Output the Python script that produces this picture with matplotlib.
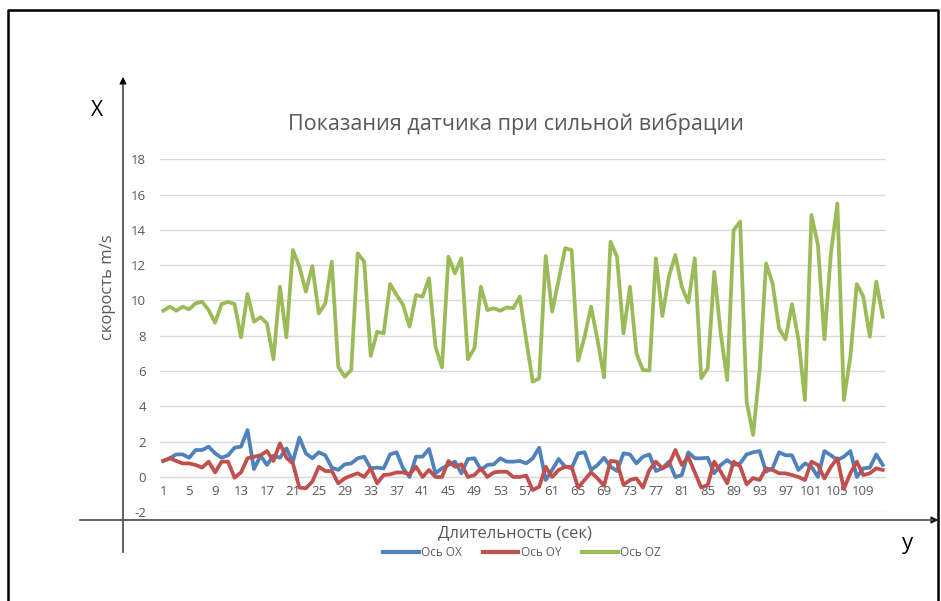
import matplotlib
matplotlib.use("Agg")
import matplotlib.pyplot as plt
from matplotlib.lines import Line2D
import numpy as np

plt.rcParams['font.family'] = ['Open Sans', 'DejaVu Sans']

title = "Показания датчика при сильной вибрации"
xlabel = "Длительность (сек)"
ylabel = "скорость m/s"
series_names = ["Ось OX", "Ось OY", "Ось OZ"]
yticks = [-2, 0, 2, 4, 6, 8, 10, 12, 14, 16, 18]

ox = [0.91, 1.06, 1.28, 1.28, 1.09, 1.53, 1.53, 1.72, 1.34, 1.09,
      1.23, 1.66, 1.72, 2.66, 0.45, 1.21, 0.68, 1.21, 1.09, 1.62,
      0.87, 2.23, 1.34, 1.06, 1.40, 1.23, 0.53, 0.40, 0.72, 0.77,
      1.06, 1.15, 0.49, 0.53, 0.49, 1.28, 1.40, 0.49, 0.00, 1.15,
      1.15, 1.59, 0.21, 0.49, 0.68, 0.87, 0.21, 1.02, 1.06, 0.40,
      0.68, 0.72, 1.06, 0.87, 0.87, 0.91, 0.77, 1.06, 1.66, -0.17,
      0.40, 1.02, 0.58, 0.49, 1.34, 1.40, 0.40, 0.68, 1.09, 0.58,
      0.34, 1.34, 1.28, 0.77, 1.15, 1.28, 0.34, 0.49, 0.87, 0.00,
      0.11, 1.40, 1.06, 1.06, 1.09, 0.21, 0.68, 0.96, 0.68, 0.77,
      1.28, 1.40, 1.47, 0.30, 0.49, 1.40, 1.23, 1.23, 0.40, 0.77,
      0.58, 0.00, 1.47, 1.23, 0.96, 1.15, 1.47, 0.00, 0.49, 0.53,
      1.28, 0.68]

oy = [0.91, 1.06, 0.91, 0.77, 0.77, 0.68, 0.53, 0.87, 0.26, 0.87,
      0.87, -0.04, 0.26, 1.06, 1.15, 1.23, 1.47, 0.91, 1.91, 1.09,
      0.77, -0.60, -0.64, -0.26, 0.58, 0.34, 0.34, -0.36, -0.08, 0.08,
      0.21, 0.00, 0.49, -0.36, 0.11, 0.15, 0.26, 0.26, 0.15, 0.58,
      0.00, 0.40, 0.00, 0.00, 0.91, 0.58, 0.72, 0.00, 0.11, 0.49,
      0.00, 0.26, 0.30, 0.30, 0.00, 0.00, 0.08, -0.74, -0.55, 0.58,
      0.00, 0.40, 0.58, 0.58, -0.60, -0.17, 0.26, -0.08, -0.49, 0.91,
      0.87, -0.45, -0.17, -0.08, -0.60, 0.40, 0.87, 0.49, 0.68, 1.53,
      0.68, 1.15, 0.26, -0.60, -0.45, 0.87, 0.30, -0.36, 0.87, 0.60,
      -0.42, -0.06, -0.17, 0.49, 0.40, 0.21, 0.21, 0.11, 0.00, -0.17,
      0.87, 0.68, -0.08, 0.58, 1.06, -0.68, 0.21, 0.87, 0.11, 0.21,
      0.49, 0.40]

oz = [9.42, 9.65, 9.42, 9.65, 9.50, 9.84, 9.93, 9.46, 8.74, 9.80,
      9.92, 9.80, 7.91, 10.37, 8.80, 9.05, 8.71, 6.67, 10.78, 7.91,
      12.86, 11.92, 10.50, 11.95, 9.27, 9.84, 12.20, 6.25, 5.68, 6.06,
      12.67, 12.20, 6.86, 8.23, 8.14, 10.93, 10.31, 9.75, 8.52, 10.31,
      10.22, 11.26, 7.38, 6.21, 12.48, 11.54, 12.39, 6.67, 7.29, 10.78,
      9.46, 9.56, 9.42, 9.61, 9.56, 10.22, 7.76, 5.40, 5.59, 12.52,
      9.37, 11.16, 12.96, 12.86, 6.59, 7.95, 9.65, 7.76, 5.65, 13.33,
      12.48, 8.14, 10.78, 7.01, 6.06, 6.03, 12.39, 9.12, 11.35, 12.58,
      10.78, 9.88, 12.39, 5.59, 6.16, 11.63, 8.14, 5.50, 13.99, 14.47,
      4.27, 2.38, 6.06, 12.10, 10.97, 8.42, 7.80, 9.80, 7.76, 4.36,
      14.84, 13.14, 7.80, 12.67, 15.50, 4.36, 6.82, 10.93, 10.22, 7.95,
      11.07, 9.08]

x = np.arange(1, len(oz) + 1)
xtick_pos = x[::4]
xtick_labels = [str(v) for v in xtick_pos]

colors = ["#4F81BD", "#C0504D", "#9BBB59"]
text_gray = "#595959"

W, H = 941, 601
fig = plt.figure(figsize=(W / 100, H / 100), dpi=100)

def fx(px):
    return px / W

def fy(py):
    return 1 - py / H

# axes placement (pixels)
left, right, top, bottom = 160, 886, 159.3, 512.3
ax = fig.add_axes([fx(left), fy(bottom), fx(right - left), (bottom - top) / H])

for vals, c, name in zip([ox, oy, oz], colors, series_names):
    ax.plot(x, vals, color=c, lw=2.7, label=name, solid_joinstyle='round')

ax.set_xlim(0.5, len(oz) + 0.5)
ax.set_ylim(-2, 18)
ax.set_yticks(yticks)
ax.set_yticklabels([str(v) for v in yticks])
ax.set_xticks(xtick_pos)
ax.set_xticklabels(xtick_labels)
ax.grid(axis='y', color='#D9D9D9', lw=1)
ax.set_axisbelow(True)
for s in ['left', 'right', 'top']:
    ax.spines[s].set_visible(False)
ax.spines['bottom'].set_position(('data', 0))
ax.spines['bottom'].set_visible(False)
ax.tick_params(axis='y', length=0, pad=10, labelsize=9.5, labelcolor=text_gray)
ax.tick_params(axis='x', length=0, pad=6, labelsize=9.5, labelcolor=text_gray)

# texts
fig.text(fx(516), fy(124), title, ha='center', va='center', fontsize=15.5, color=text_gray)
fig.text(fx(108), fy(287), ylabel, ha='center', va='center', rotation=90,
         fontsize=12, color=text_gray)
fig.text(fx(515), fy(533), xlabel, ha='center', va='center', fontsize=12, color=text_gray)
fig.text(fx(97), fy(110), "X", ha='center', va='center', fontsize=15, color='black')
fig.text(fx(908), fy(543), "y", ha='center', va='center', fontsize=16, color='black')

# legend
leg = ax.legend(loc='center', bbox_to_anchor=(fx(522), fy(553)), bbox_transform=fig.transFigure,
                ncol=3, frameon=False, fontsize=8.5, handlelength=3.0, handletextpad=0.2,
                columnspacing=1.8, labelcolor=text_gray)
for h in leg.get_lines():
    h.set_linewidth(3.0)

# drawn axis arrows
fig.add_artist(Line2D([fx(123), fx(123)], [fy(552), fy(85)], color='#555555', lw=1.3,
                      transform=fig.transFigure))
fig.add_artist(Line2D([fx(80), fx(932)], [fy(520), fy(520)], color='#555555', lw=1.3,
                      transform=fig.transFigure))
ax.annotate('', xy=(fx(123), fy(74)), xytext=(fx(123), fy(88)), xycoords='figure fraction',
            arrowprops=dict(arrowstyle='-|>', color='black', lw=1.0, mutation_scale=10))
ax.annotate('', xy=(fx(941), fy(520)), xytext=(fx(928), fy(520)), xycoords='figure fraction',
            arrowprops=dict(arrowstyle='-|>', color='black', lw=1.0, mutation_scale=10))

# outer frame
fig.add_artist(Line2D([fx(8), fx(8), fx(938), fx(938)], [fy(610), fy(10), fy(10), fy(610)],
                      color='black', lw=1.8, transform=fig.transFigure))

fig.savefig("out.png", dpi=100)
